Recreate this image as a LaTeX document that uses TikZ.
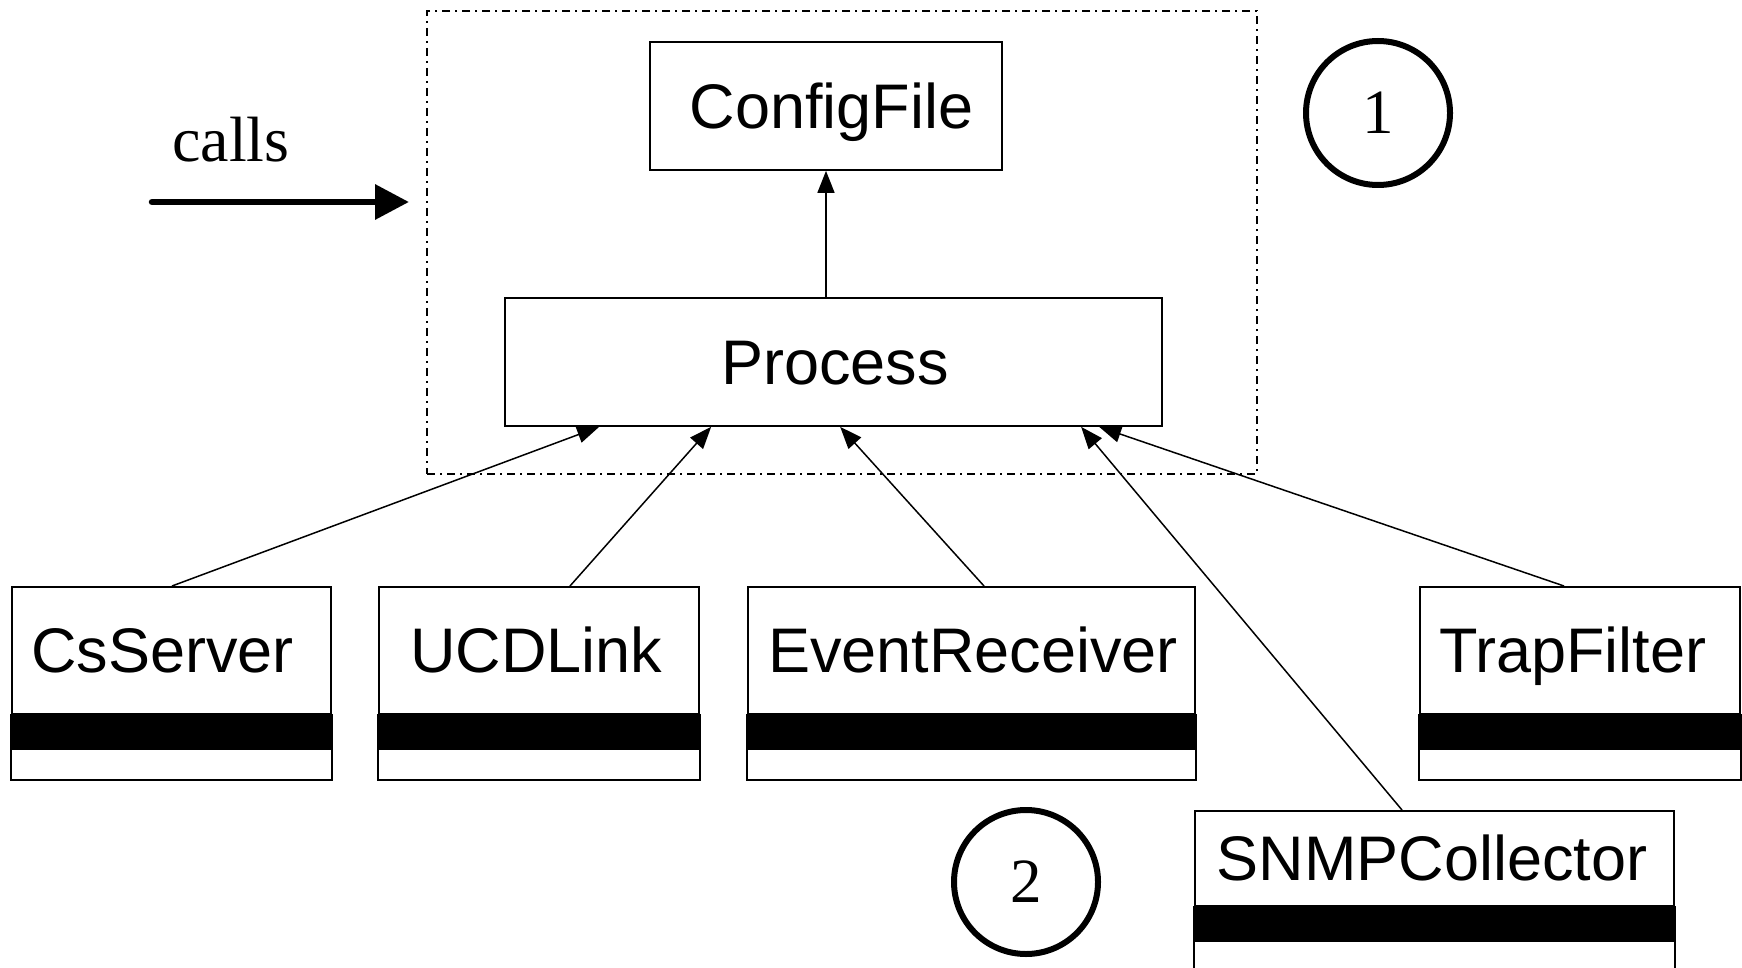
\documentclass[tikz,border=0pt]{standalone}
\usepackage{fontspec}
\setmainfont{Liberation Serif}
\newfontfamily\arialfont{Liberation Sans}
\usetikzlibrary{arrows.meta}
\newcommand\umlcls[6]{% name, left, top, width, name-part height, text
  \node[clsbox, anchor=north west, minimum width=#4pt, minimum height=#5pt] (#1) at (#2,#3) {#6};
  \filldraw[line width=1.7pt] (#1.south west) rectangle ([yshift=-34pt]#1.south east);
  \draw[line width=1.7pt] ([yshift=-34pt]#1.south west) rectangle ([yshift=-65pt]#1.south east);
}
\begin{document}
\begin{tikzpicture}[x=1pt,y=-1pt,
  clsbox/.style={draw, line width=1.7pt, inner sep=0pt, text height=45pt, text depth=0pt,
    font=\arialfont\fontsize{63pt}{70pt}\selectfont},
  conn/.style={line width=1.5pt, -{Triangle[length=22pt,width=17pt]}},
  frame/.style={draw, line width=1.4pt, dash pattern=on 8pt off 5pt on 2pt off 5pt, inner sep=0pt},
  circ/.style={draw, circle, line width=6pt, minimum size=144pt, inner sep=0pt, font=\fontsize{63pt}{70pt}\selectfont},
  serif/.style={font=\fontsize{64pt}{70pt}\selectfont, inner sep=0pt}
]
\useasboundingbox (0,0) rectangle (1742,968);
\clip (0,0) rectangle (1742,968);

% group frame
\node[frame, minimum width=830pt, minimum height=463pt] (grp) at (842,242.5) {};

% upper boxes
\node[clsbox, minimum width=352pt, minimum height=128pt] (cf) at (826,106) {\hspace*{11pt}ConfigFile};
\node[clsbox, minimum width=657pt, minimum height=128pt] (pr) at (833.5,362) {\hspace*{3pt}Process};

% class boxes
\umlcls{cs}{11}{586}{319}{127}{\hspace*{-18pt}CsServer}
\umlcls{ucd}{378}{586}{320}{127}{\hspace*{-5pt}UCDLink}
\umlcls{ev}{747}{586}{447}{127}{\hspace*{3pt}EventReceiver}
\umlcls{tf}{1419}{586}{320}{127}{\hspace*{-14pt}TrapFilter}
\umlcls{snmp}{1194}{810}{479}{95}{\hspace*{-5pt}SNMPCollector}

% circles
\node[circ] (c1) at (1378,113) {1};
\node[circ] (c2) at (1026,882) {2};

% calls label and arrow
\node[serif, anchor=base west] (callsl) at (172,162) {calls};
\coordinate (cas) at (152,202);
\coordinate (cae) at (409,202);
\draw[line width=6.5pt, line cap=round, -{Triangle[length=34pt,width=34pt]}] (cas) -- (cae);

% connectors
\draw[conn] (pr.north -| cf.south) -- (cf.south);
\draw[conn] ([xshift=161pt]cs.north west) -- ([xshift=95pt]pr.south west);
\draw[conn] ([xshift=192pt]ucd.north west) -- ([xshift=207pt]pr.south west);
\draw[conn] ([xshift=237pt]ev.north west) -- ([xshift=336pt]pr.south west);
\draw[conn] ([xshift=208pt]snmp.north west) -- ([xshift=577pt]pr.south west);
\draw[conn] ([xshift=145pt]tf.north west) -- ([xshift=595pt]pr.south west);
\end{tikzpicture}
\end{document}
